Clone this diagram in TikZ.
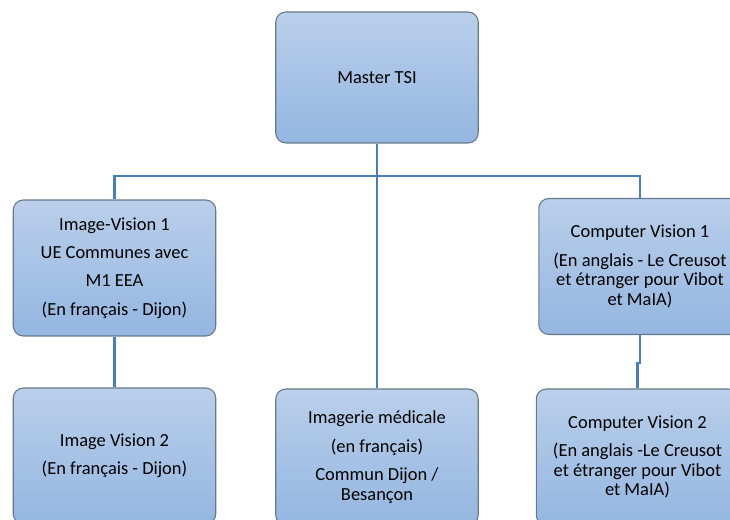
\documentclass[tikz,border=0pt]{standalone}
\usepackage{fontspec}
\setmainfont{Carlito}
\usepackage{tikz}
\usetikzlibrary{calc,positioning,shapes}
\definecolor{boxtop}{HTML}{BACFEA}
\definecolor{boxbot}{HTML}{94B6E1}
\definecolor{boxline}{HTML}{67788C}
\definecolor{linkblue}{HTML}{4A7EBB}
\tikzset{
    unit box/.style={
        rectangle,
        rounded corners=2mm,
        draw=boxline,
        line width=0.6pt,
        top color=boxtop,
        bottom color=boxbot,
        align=center,
        minimum width=4.05cm,
        minimum height=2.72cm,
        inner sep=0pt,
        font=\fontsize{10.5}{11.2}\selectfont,
    },
    link/.style={
        draw=linkblue,
        line width=1.3pt,
    },
}

\begin{document}
\begin{tikzpicture}[x=0.02cm,y=-0.02cm]
        \useasboundingbox (0,0) rectangle (730,520);
        \clip (0,0) rectangle (730,520);
        \node[unit box,minimum height=2.62cm](master) at (377,77.5) {Master TSI};
        \coordinate (bus) at (377,176);

        \node[unit box](iv1) at (114.5,268) {Image-Vision 1\\[5pt] UE Communes avec\\[5pt] M1 EEA\\[5pt] (En fran\c{c}ais - Dijon)};
        \node[unit box](iv2) at (114.5,456) {Image Vision 2\\[5pt] (En fran\c{c}ais - Dijon)};

        \node[unit box](med) at (377,457) {Imagerie m\'edicale\\[5.5pt] (en fran\c{c}ais)\\[5pt] Commun Dijon /\\ Besan\c{c}on};

        \node[unit box](cv1) at (640,266.5) {Computer Vision 1\\[5pt] (En anglais - Le Creusot\\ et \'etranger pour Vibot\\ et MaIA)};
        \node[unit box](cv2) at (637.5,457) {Computer Vision 2\\[5pt] (En anglais -Le Creusot\\ et \'etranger pour Vibot\\ et MaIA)};

        \draw[link] (master) -- (bus);
        \draw[link] (bus) -| (iv1.north);
        \draw[link] (bus) -| (cv1.north);
        \draw[link] (bus) -- (med);
        \draw[link] (iv1) -- (iv2);
        \draw[link] (cv1.south) -- ++(0,28) -| (cv2.north);
    \end{tikzpicture}
\end{document}
